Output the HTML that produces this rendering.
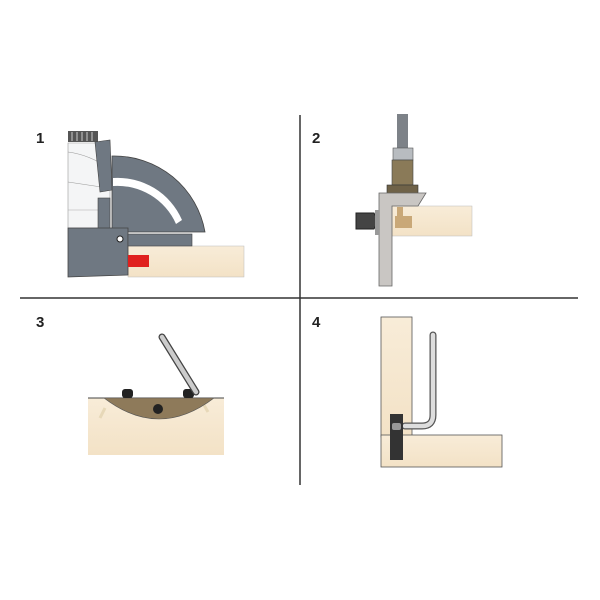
<!DOCTYPE html>
<html><head><style>body{margin:0;background:#fff}svg{display:block}</style></head><body>
<svg width="600" height="600" viewBox="0 0 600 600" xmlns="http://www.w3.org/2000/svg" font-family="Liberation Sans, sans-serif">
<defs>
<linearGradient id="wood" x1="0" y1="0" x2="0" y2="1"><stop offset="0" stop-color="#f8ecd8"/><stop offset="1" stop-color="#f3e2c6"/></linearGradient>
</defs>
<line x1="300" y1="115" x2="300" y2="485" stroke="#333" stroke-width="1.5"/>
<line x1="20" y1="298" x2="578" y2="298" stroke="#333" stroke-width="1.5"/>
<g font-weight="bold" font-size="15" fill="#222">
<text x="36" y="143">1</text><text x="312" y="143">2</text><text x="36" y="327">3</text><text x="312" y="327">4</text>
</g>
<!-- Panel 1 -->
<rect x="128" y="246" width="116" height="31" fill="url(#wood)" stroke="#bbb" stroke-width="0.5"/>
<path d="M112,156 A92,92 0 0 1 205,232 L112,232 Z" fill="#6f7882" stroke="#444" stroke-width="0.8"/>
<path d="M113,178 A70,70 0 0 1 182,220 L176,224 A64,64 0 0 0 113,186 Z" fill="#fff"/>
<path d="M68,143 L100,143 L110,160 L110,228 L68,228Z" fill="#f4f5f6" stroke="#999" stroke-width="0.6"/>
<path d="M68,152 Q90,155 108,168" fill="none" stroke="#999" stroke-width="0.6"/>
<path d="M68,182 L108,188" fill="none" stroke="#999" stroke-width="0.6"/>
<path d="M68,210 L100,210" fill="none" stroke="#aaa" stroke-width="0.6"/>
<rect x="68" y="131" width="30" height="11" fill="#555"/>
<g stroke="#ccc" stroke-width="1"><line x1="72" y1="132" x2="72" y2="141"/><line x1="77" y1="132" x2="77" y2="141"/><line x1="82" y1="132" x2="82" y2="141"/><line x1="87" y1="132" x2="87" y2="141"/><line x1="92" y1="132" x2="92" y2="141"/></g>
<path d="M95,142 L110,140 L112,190 L100,192Z" fill="#6f7882" stroke="#444" stroke-width="0.6"/>
<rect x="98" y="198" width="12" height="34" fill="#6f7882" stroke="#444" stroke-width="0.6"/>
<path d="M68,228 L128,228 L128,275 L68,277Z" fill="#6f7882" stroke="#444" stroke-width="0.8"/>
<rect x="128" y="234" width="64" height="12" fill="#6f7882" stroke="#444" stroke-width="0.6"/>
<circle cx="120" cy="239" r="3" fill="#fff" stroke="#222"/>
<rect x="128" y="255" width="21" height="12" fill="#e0201e"/>
<!-- Panel 2 -->
<rect x="397" y="114" width="11" height="36" fill="#7d8288"/>
<rect x="393" y="148" width="20" height="12" fill="#b8bcc0" stroke="#555" stroke-width="0.6"/>
<rect x="392" y="160" width="21" height="25" fill="#8a7a58" stroke="#444" stroke-width="0.6"/>
<rect x="387" y="185" width="31" height="9" fill="#6f6248" stroke="#333" stroke-width="0.6"/>
<rect x="392" y="206" width="80" height="30" fill="url(#wood)" stroke="#bbb" stroke-width="0.5"/>
<rect x="397" y="207" width="6" height="10" fill="#c9a878"/><rect x="395" y="216" width="17" height="12" fill="#c9a878"/>
<path d="M379,193 L426,193 L418,206 L392,206 L392,286 L379,286Z" fill="#c9c6c3" stroke="#666" stroke-width="0.8"/>
<path d="M356,213 L374,213 L378,221 L374,229 L356,229Z" fill="#444" stroke="#222"/>
<rect x="375" y="210" width="4" height="25" fill="#999"/>
<!-- Panel 3 -->
<rect x="88" y="398" width="136" height="57" fill="url(#wood)"/>
<line x1="88" y1="398" x2="224" y2="398" stroke="#444" stroke-width="1"/>
<line x1="105" y1="408" x2="100" y2="418" stroke="#e7d8b8" stroke-width="3"/>
<line x1="204" y1="405" x2="208" y2="412" stroke="#e7d8b8" stroke-width="3"/>
<path d="M104,398 Q159,440 214,398Z" fill="#8e7a5a" stroke="#555" stroke-width="0.6"/>
<circle cx="158" cy="409" r="5" fill="#222"/>
<rect x="122" y="389" width="11" height="9" rx="3" fill="#222"/>
<rect x="183" y="389" width="11" height="9" rx="3" fill="#222"/>
<line x1="162" y1="337" x2="196" y2="392" stroke="#444" stroke-width="7" stroke-linecap="round"/>
<line x1="162" y1="337" x2="196" y2="392" stroke="#ccc" stroke-width="4.5" stroke-linecap="round"/>
<!-- Panel 4 -->
<rect x="381" y="317" width="31" height="120" fill="url(#wood)" stroke="#555" stroke-width="0.8"/>
<rect x="381" y="435" width="121" height="32" fill="url(#wood)" stroke="#555" stroke-width="0.8"/>
<path d="M433,335 L433,415 Q433,426 422,426 L405,426" fill="none" stroke="#555" stroke-width="7" stroke-linecap="round"/>
<path d="M433,335 L433,415 Q433,426 422,426 L405,426" fill="none" stroke="#ddd" stroke-width="4.5" stroke-linecap="round"/>
<rect x="390" y="414" width="13" height="46" fill="#333"/>
<rect x="392" y="423" width="9" height="7" rx="2" fill="#999"/>
</svg>
</body></html>
